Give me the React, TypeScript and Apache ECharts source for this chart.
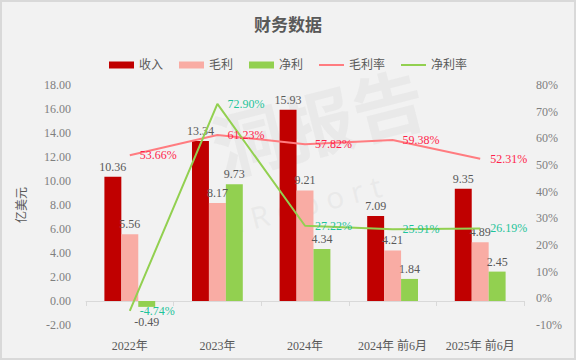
import React, { useEffect, useRef } from "react";
import * as echarts from "echarts";

const categories = ["2022年", "2023年", "2024年", "2024年 前6月", "2025年 前6月"];
const revenue = [10.36, 13.34, 15.93, 7.09, 9.35];
const grossProfit = [5.56, 8.17, 9.21, 4.21, 4.89];
const netProfit = [-0.49, 9.73, 4.34, 1.84, 2.45];
const grossMargin = [53.66, 61.23, 57.82, 59.38, 52.31];
const netMargin = [-4.74, 72.9, 27.22, 25.91, 26.19];

const FONT = "Liberation Serif, Noto Sans CJK SC, serif";
const GRAY = "#595959";
const LINE_ICON = "path://M0,0L0.01,0L0.01,0.01ZM0,2.6L25,2.6L25,4.4L0,4.4ZM0,7L0.01,7L0.01,6.99Z";

export default function App() {
  const ref = useRef<HTMLDivElement>(null);
  useEffect(() => {
    if (!ref.current) return;
    const chart = echarts.init(ref.current, null, { renderer: "svg" });
    const barLabel = {
      show: true,
      position: "top",
      color: GRAY,
      fontSize: 12,
      fontFamily: FONT,
      distance: 4,
      formatter: (p: any) => Number(p.value).toFixed(2),
    };
    const lineLabel = (color: string) => ({
      show: true,
      position: "right",
      distance: 10,
      color,
      fontSize: 12,
      fontFamily: FONT,
      formatter: (p: any) => Number(p.value).toFixed(2) + "%",
    });
    chart.setOption({
      animation: false,
      backgroundColor: "#f2f2f2",
      textStyle: { fontFamily: FONT },
      title: {
        text: "财务数据",
        left: "center",
        top: 12,
        textStyle: { fontSize: 17, fontWeight: "bold", color: GRAY, fontFamily: FONT },
      },
      legend: {
        top: 54,
        left: "center",
        itemWidth: 25,
        itemHeight: 7,
        itemGap: 16,
        textStyle: { color: GRAY, fontSize: 12, fontFamily: FONT },
        data: [
          { name: "收入", icon: "rect" },
          { name: "毛利", icon: "rect" },
          { name: "净利", icon: "rect" },
          { name: "毛利率", icon: LINE_ICON },
          { name: "净利率", icon: LINE_ICON },
        ],
      },
      graphic: [
        {
          type: "rect",
          silent: true,
          z: -10,
          shape: { x: 1, y: 1, width: 574, height: 358 },
          style: { fill: "none", stroke: "#d9d9d9", lineWidth: 2 },
        },
        {
          type: "group",
          silent: true,
          z: -5,
          x: 300,
          y: 185,
          rotation: 0.25,
          children: [
            {
              type: "text",
              x: -75,
              y: -95,
              style: {
                text: "洞报告",
                fontSize: 72,
                fontWeight: "bold",
                fill: "rgba(170,170,170,0.12)",
                fontFamily: "'Noto Sans CJK SC', sans-serif",
              },
            },
            {
              type: "text",
              x: -95,
              y: 5,
              style: {
                text: "L i R e p o r t",
                fontSize: 30,
                fill: "rgba(170,170,170,0.12)",
                fontFamily: "'Noto Sans', sans-serif",
              },
            },
          ],
        },
      ],
      grid: { left: 86, right: 52, top: 85, bottom: 35, outerBoundsMode: "none", containLabel: false },
      xAxis: {
        type: "category",
        data: categories,
        axisLine: { onZero: true, lineStyle: { color: "#d9d9d9" } },
        axisTick: { show: true, alignWithLabel: false, length: 5, lineStyle: { color: "#d9d9d9" } },
        axisLabel: { color: GRAY, fontSize: 12, margin: 15, interval: 0, fontFamily: FONT },
      },
      yAxis: [
        {
          type: "value",
          min: -2,
          max: 18,
          interval: 2,
          name: "亿美元",
          nameLocation: "middle",
          nameRotate: 90,
          nameGap: 58,
          nameTextStyle: { color: GRAY, fontSize: 12, fontFamily: FONT },
          axisLine: { show: false },
          axisTick: { show: false },
          splitLine: { show: false },
          axisLabel: {
            color: "#7f7f7f",
            fontSize: 12,
            margin: 15,
            fontFamily: FONT,
            formatter: (v: number) => v.toFixed(2),
          },
        },
        {
          type: "value",
          min: -10,
          max: 80,
          interval: 10,
          axisLine: { show: false },
          axisTick: { show: false },
          splitLine: { show: false },
          axisLabel: { color: "#7f7f7f", fontSize: 12, margin: 12, fontFamily: FONT, formatter: "{value}%" },
        },
      ],
      series: [
        {
          name: "收入",
          type: "bar",
          data: revenue,
          barGap: "0%",
          barCategoryGap: "42%",
          itemStyle: { color: "#c00000" },
          label: barLabel,
        },
        {
          name: "毛利",
          type: "bar",
          data: grossProfit,
          itemStyle: { color: "#f9aca4" },
          label: barLabel,
        },
        {
          name: "净利",
          type: "bar",
          data: netProfit.map((v) => (v < 0 ? { value: v, label: { position: "bottom", distance: 9 } } : v)),
          itemStyle: { color: "#92d050" },
          label: barLabel,
        },
        {
          name: "毛利率",
          type: "line",
          yAxisIndex: 1,
          data: grossMargin,
          symbol: "circle",
          symbolSize: 0,
          lineStyle: { color: "#ff7c80", width: 2 },
          itemStyle: { color: "#ff7c80" },
          label: lineLabel("#ff1f4b"),
          z: 5,
        },
        {
          name: "净利率",
          type: "line",
          yAxisIndex: 1,
          data: netMargin,
          symbol: "circle",
          symbolSize: 0,
          lineStyle: { color: "#92d050", width: 2 },
          itemStyle: { color: "#92d050" },
          label: lineLabel("#1fc49a"),
          z: 5,
        },
      ],
    });
    return () => chart.dispose();
  }, []);
  return (
    <div
      ref={ref}
      style={{ position: "fixed", left: 0, top: 0, width: 576, height: 360 }}
    />
  );
}
